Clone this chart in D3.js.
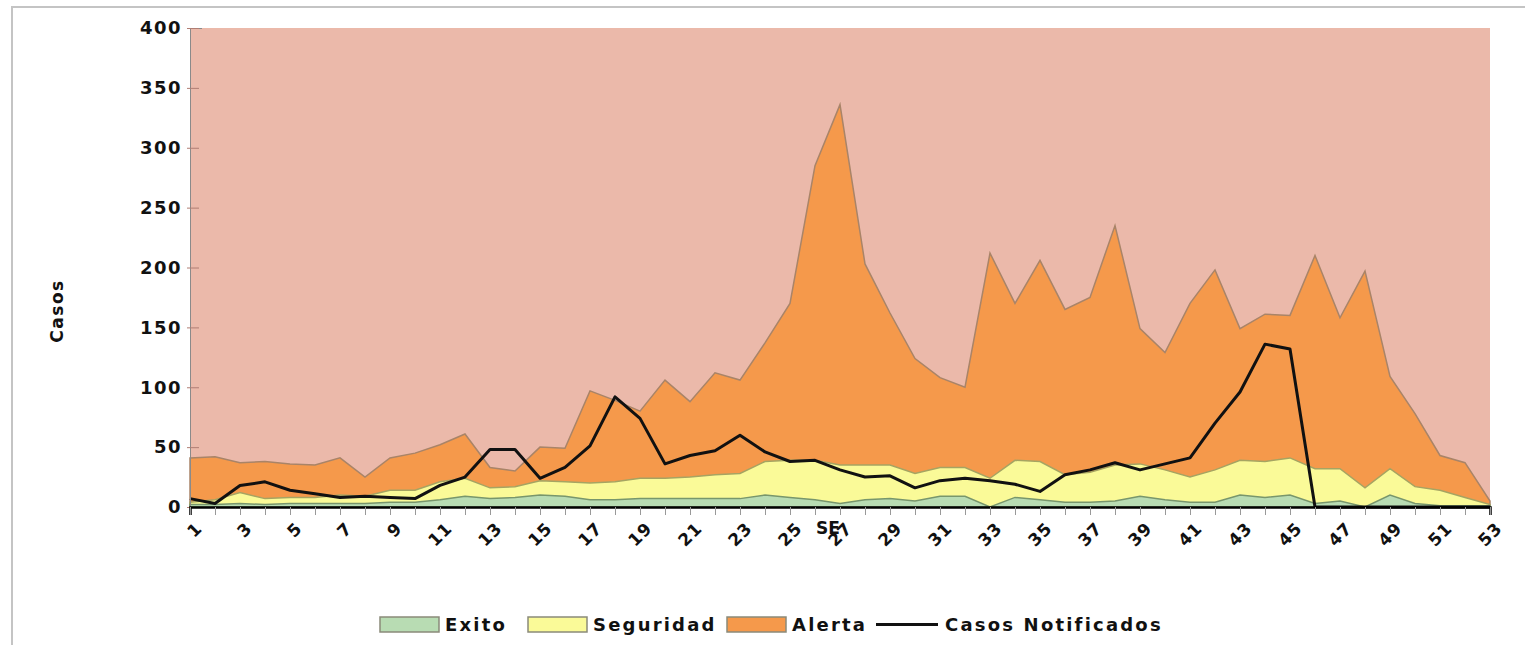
<!DOCTYPE html>
<html>
<head>
<meta charset="utf-8">
<script src="https://cdn.jsdelivr.net/npm/d3@7"></script>
<style>
  body { margin: 0; background: #fff; }
  text { font-family: "DejaVu Sans", sans-serif; font-weight: bold; fill: #111; }
</style>
</head>
<body>
<div id="chart"></div>
<script>
const WEEKS = d3.range(1, 54);

// upper boundary of each zone (cases)
const EXITO = [2, 2, 3, 2, 3, 3, 3, 3, 4, 4, 6, 9, 7, 8, 10, 9, 6, 6, 7, 7,
  7, 7, 7, 10, 8, 6, 3, 6, 7, 5, 9, 9, 0, 8, 6, 4, 4, 5, 9, 6,
  4, 4, 10, 8, 10, 3, 5, 0, 10, 3, 1, 1, 1];
const SEGURIDAD = [4, 6, 12, 7, 8, 8, 10, 9, 14, 14, 21, 24, 16, 17, 22, 21, 20, 21, 24, 24,
  25, 27, 28, 38, 39, 39, 35, 35, 35, 28, 33, 33, 24, 39, 38, 27, 29, 35, 36, 31,
  25, 31, 39, 38, 41, 32, 32, 16, 32, 17, 14, 8, 2];
const ALERTA = [41, 42, 37, 38, 36, 35, 41, 25, 41, 45, 52, 61, 33, 30, 50, 49, 97, 89, 80, 106,
  88, 112, 106, 137, 170, 285, 336, 203, 162, 124, 108, 100, 212, 170, 206, 165, 175, 235, 149, 129,
  170, 198, 149, 161, 160, 210, 158, 197, 109, 78, 43, 37, 5];
const CASOS = [7, 3, 18, 21, 14, 11, 8, 9, 8, 7, 18, 25, 48, 48, 24, 33, 51, 92, 74, 36,
  43, 47, 60, 46, 38, 39, 31, 25, 26, 16, 22, 24, 22, 19, 13, 27, 31, 37, 31, 36,
  41, 70, 96, 136, 132, 0, 0, 0, 0, 0, 0, 0, 0];

const Y_TICKS = [0, 50, 100, 150, 200, 250, 300, 350, 400];
const X_LABELS = d3.range(1, 54, 2);

const WIDTH = 1525;
const HEIGHT = 645;
const PLOT = { left: 190, right: 1490, top: 28, bottom: 507 };

const COLORS = {
  brote: "#ebb9aa",
  alerta: "#f5994b",
  alertaLine: "#a98468",
  seguridad: "#fafa98",
  seguridadLine: "#a6a462",
  exito: "#b8dcb3",
  exitoLine: "#78966c",
  casos: "#111111",
};

const SVG = d3.select("#chart").append("svg")
  .attr("width", WIDTH)
  .attr("height", HEIGHT);

// outer frame
SVG.append("path")
  .attr("d", `M12,${HEIGHT} L12,7 L${WIDTH},7`)
  .attr("fill", "none")
  .attr("stroke", "#c4c4c4")
  .attr("stroke-width", 2);

const X_SCALE = d3.scaleLinear().domain([1, 53]).range([PLOT.left, PLOT.right]);
const Y_SCALE = d3.scaleLinear().domain([0, 400]).range([PLOT.bottom, PLOT.top]);

// brote zone = plot background
SVG.append("rect")
  .attr("x", PLOT.left)
  .attr("y", PLOT.top)
  .attr("width", PLOT.right - PLOT.left)
  .attr("height", PLOT.bottom - PLOT.top)
  .attr("fill", COLORS.brote);

function zone(values, fill, stroke) {
  const area = d3.area()
    .x((d, i) => X_SCALE(WEEKS[i]))
    .y0(Y_SCALE(0))
    .y1((d) => Y_SCALE(d));
  SVG.append("path")
    .datum(values)
    .attr("d", area)
    .attr("fill", fill)
    .attr("stroke", stroke)
    .attr("stroke-width", 1.5);
}

zone(ALERTA, COLORS.alerta, COLORS.alertaLine);
zone(SEGURIDAD, COLORS.seguridad, COLORS.seguridadLine);
zone(EXITO, COLORS.exito, COLORS.exitoLine);

SVG.append("path")
  .datum(CASOS)
  .attr("d", d3.line().x((d, i) => X_SCALE(WEEKS[i])).y((d) => Y_SCALE(d)))
  .attr("fill", "none")
  .attr("stroke", COLORS.casos)
  .attr("stroke-width", 3)
  .attr("stroke-linejoin", "round");

// y axis
const Y_AXIS = SVG.append("g")
  .attr("transform", `translate(${PLOT.left},0)`)
  .call(d3.axisLeft(Y_SCALE).tickValues(Y_TICKS).tickSize(-12).tickPadding(8));
Y_AXIS.select(".domain").attr("stroke", "#8a8a8a");
Y_AXIS.selectAll(".tick line").attr("stroke", "#b07e74").attr("transform", "translate(-3,0)");
Y_AXIS.selectAll("text")
  .attr("font-size", 18)
  .attr("font-family", "DejaVu Sans")
  .attr("font-weight", "bold")
  .attr("letter-spacing", 1.5)
  .attr("fill", "#111");

// x axis
const X_AXIS = SVG.append("g")
  .attr("transform", `translate(0,${PLOT.bottom})`)
  .call(d3.axisBottom(X_SCALE).tickValues(WEEKS).tickSize(8).tickFormat(""));
X_AXIS.select(".domain").attr("stroke", "#000").attr("stroke-width", 2.5);
X_AXIS.selectAll(".tick line").attr("stroke", "#999");

SVG.append("g").selectAll("text")
  .data(X_LABELS)
  .enter()
  .append("text")
  .attr("transform", (d) => `translate(${X_SCALE(d) + 5},${PLOT.bottom + 14}) rotate(-45)`)
  .attr("text-anchor", "end")
  .attr("dy", "0.7em")
  .attr("font-size", 17)
  .attr("letter-spacing", 1)
  .text((d) => d);

SVG.append("text")
  .attr("x", 828)
  .attr("y", 534)
  .attr("text-anchor", "middle")
  .attr("font-size", 17)
  .text("SE");

SVG.append("text")
  .attr("transform", "translate(63,311) rotate(-90)")
  .attr("text-anchor", "middle")
  .attr("font-size", 17)
  .attr("letter-spacing", 1.5)
  .text("Casos");

// legend
const LEGEND = [
  { name: "Exito", type: "box", fill: COLORS.exito, x: 380 },
  { name: "Seguridad", type: "box", fill: COLORS.seguridad, x: 528 },
  { name: "Alerta", type: "box", fill: COLORS.alerta, x: 727 },
  { name: "Casos Notificados", type: "line", stroke: COLORS.casos, x: 876 },
];
const LEG = SVG.append("g");
LEGEND.forEach((d) => {
  if (d.type === "box") {
    LEG.append("rect")
      .attr("x", d.x).attr("y", 617)
      .attr("width", 59).attr("height", 15)
      .attr("fill", d.fill).attr("stroke", "#8a8a7a").attr("stroke-width", 1.5);
  } else {
    LEG.append("line")
      .attr("x1", d.x).attr("x2", d.x + 62)
      .attr("y1", 624.5).attr("y2", 624.5)
      .attr("stroke", d.stroke).attr("stroke-width", 3);
  }
  LEG.append("text")
    .attr("x", d.x + (d.type === "box" ? 65 : 69))
    .attr("y", 624.5)
    .attr("dy", "0.36em")
    .attr("font-size", 18)
    .attr("letter-spacing", 2.2)
    .text(d.name);
});
</script>
</body>
</html>
